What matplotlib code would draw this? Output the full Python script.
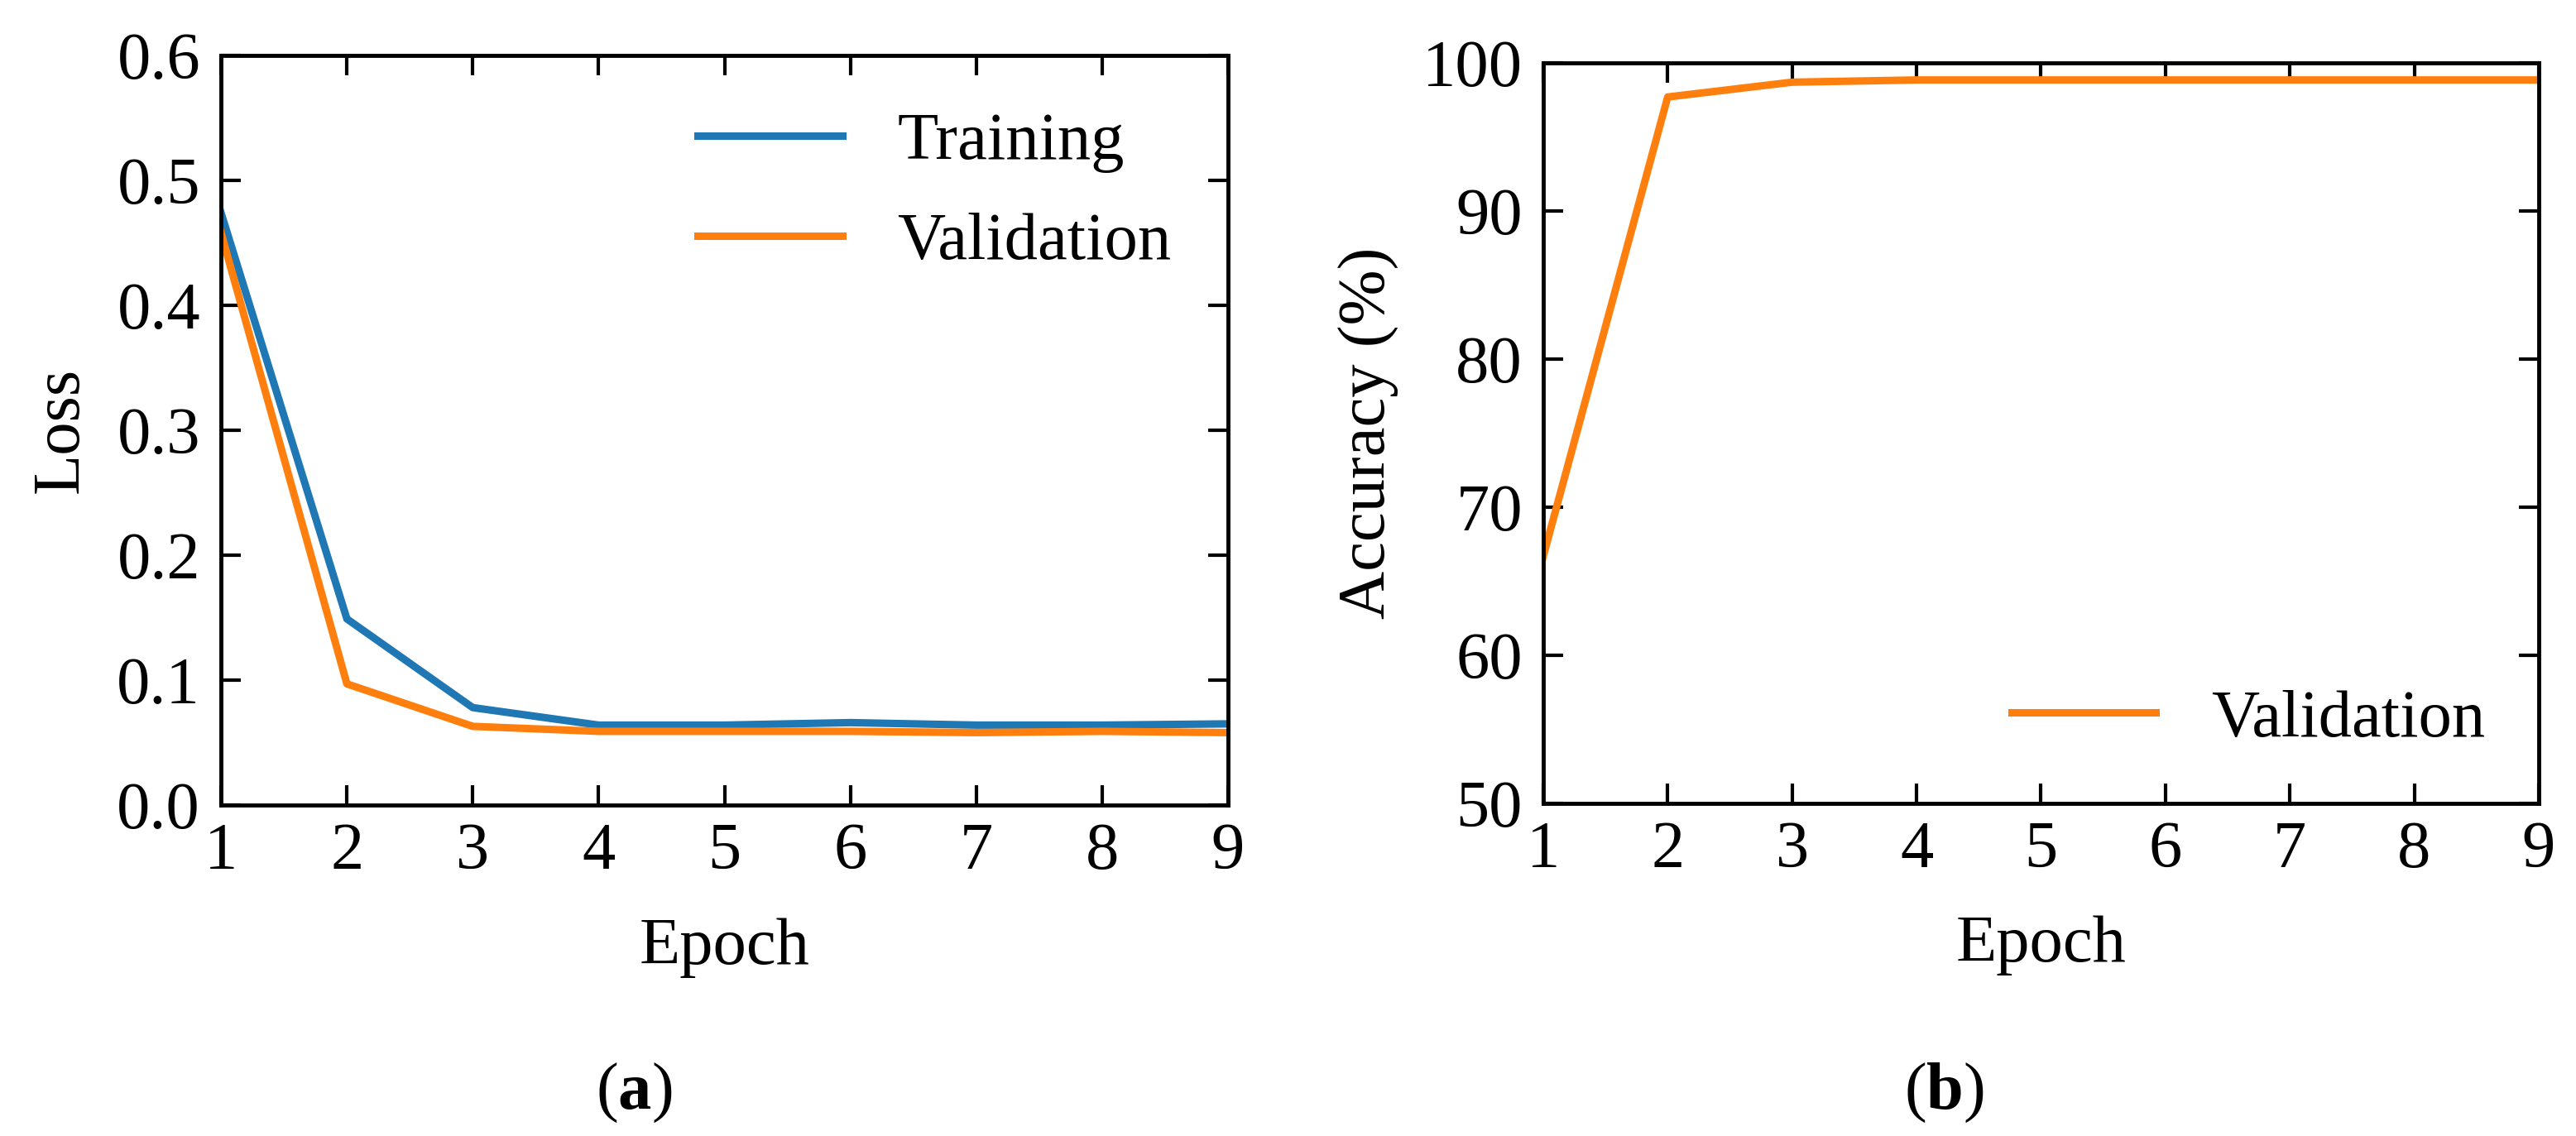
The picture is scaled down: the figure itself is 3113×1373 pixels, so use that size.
import matplotlib
matplotlib.use("Agg")
import matplotlib.pyplot as plt

plt.rcParams['font.family'] = ['Liberation Serif', 'DejaVu Serif']
plt.rcParams['mathtext.fontset'] = 'custom'
plt.rcParams['mathtext.rm'] = 'Liberation Serif'
plt.rcParams['mathtext.bf'] = 'Liberation Serif:bold'

epochs = [1, 2, 3, 4, 5, 6, 7, 8, 9]
train_loss = [0.474, 0.149, 0.078, 0.064, 0.064, 0.066, 0.064, 0.064, 0.065]
val_loss = [0.458, 0.097, 0.063, 0.059, 0.059, 0.059, 0.058, 0.059, 0.058]
val_acc = [66.7, 97.7, 98.7, 98.85, 98.85, 98.85, 98.85, 98.85, 98.85]

loss_ticks = [0.0, 0.1, 0.2, 0.3, 0.4, 0.5, 0.6]
acc_ticks = [50, 60, 70, 80, 90, 100]

FS = 58
LW = 6.5
BLUE = '#1f77b4'
ORANGE = '#ff7f0e'

fig = plt.figure(figsize=(31.13, 13.73), dpi=100)
ax1 = fig.add_axes([0.0858, 0.2913, 0.3909, 0.660])
ax2 = fig.add_axes([0.5991, 0.2928, 0.3864, 0.6518])


def style(ax):
    for s in ax.spines.values():
        s.set_linewidth(3.5)
    ax.tick_params(direction='in', length=17, width=3, top=True, right=True,
                   labelsize=FS)
    ax.tick_params(axis='x', pad=15)
    ax.tick_params(axis='y', pad=18)


ax1.plot(epochs, train_loss, color=BLUE, lw=LW, label='Training')
ax1.plot(epochs, val_loss, color=ORANGE, lw=LW, label='Validation')
ax1.set_xlim(1, 9)
ax1.set_ylim(0, 0.6)
ax1.set_xticks(epochs)
ax1.set_yticks(loss_ticks)
ax1.set_yticklabels([f'{t:.1f}' for t in loss_ticks])
ax1.set_xlabel('Epoch', fontsize=FS, labelpad=30)
ax1.set_ylabel('Loss', fontsize=FS, labelpad=22)
style(ax1)
ax1.legend(loc='upper right', frameon=False, fontsize=FS, handlelength=2.17,
           handletextpad=0.83, labelspacing=0.6, borderaxespad=0.45)

ax2.plot(epochs, val_acc, color=ORANGE, lw=LW, label='Validation')
ax2.set_xlim(1, 9)
ax2.set_ylim(50, 100)
ax2.set_xticks(epochs)
ax2.set_yticks(acc_ticks)
ax2.set_xlabel('Epoch', fontsize=FS, labelpad=30)
ax2.set_ylabel('Accuracy (%)', fontsize=FS, labelpad=20)
style(ax2)
ax2.legend(loc='lower right', frameon=False, fontsize=FS, handlelength=2.17,
           handletextpad=0.83, borderaxespad=0.4)

fig.text(0.2461, 1 - 1321 / 1373, r'($\mathbf{a}$)', fontsize=FS, ha='center', va='center')
fig.text(0.7546, 1 - 1321 / 1373, r'($\mathbf{b}$)', fontsize=FS, ha='center', va='center')

fig.savefig('out.png', dpi=100)
